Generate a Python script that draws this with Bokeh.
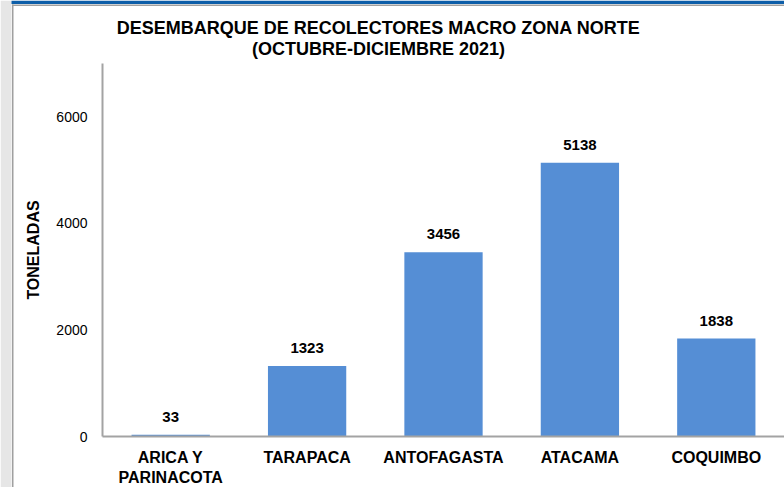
from bokeh.plotting import figure
from bokeh.models import ColumnDataSource, Label, FixedTicker, Range1d, BoxAnnotation
from bokeh.core.properties import value
from bokeh.embed import file_html
from bokeh.resources import INLINE

categories = ["ARICA Y\nPARINACOTA", "TARAPACA", "ANTOFAGASTA", "ATACAMA", "COQUIMBO"]
toneladas = [33, 1323, 3456, 5138, 1838]
y_ticks = [0, 2000, 4000, 6000]
y_max = 7000
title_lines = ["DESEMBARQUE DE RECOLECTORES MACRO ZONA NORTE", "(OCTUBRE-DICIEMBRE 2021)"]
y_label = "TONELADAS"

FONT = "Liberation Sans"
BAR = "#558ed5"
AXIS = "#a3a3a3"

# layout in canvas pixels
W, H = 784, 487
PLOT_L, PLOT_T, PLOT_B = 102, 63, 436
STEP = (W - PLOT_L) / len(categories)          # pixels per category
PPU = (PLOT_B - PLOT_T) / y_max                # pixels per tonne


def px_x(px):
    return -0.5 + (px - PLOT_L) / STEP


def px_y(py):
    return (PLOT_B - py) / PPU


xs = list(range(len(categories)))
src = ColumnDataSource(dict(x=xs, y=toneladas, lbl=[str(v) for v in toneladas]))

p = figure(width=W, height=H, output_backend="svg", toolbar_location=None,
           x_range=Range1d(px_x(0), px_x(W)), y_range=Range1d(px_y(H), px_y(0)),
           min_border_left=0, min_border_right=0, min_border_top=0, min_border_bottom=0)
p.background_fill_color = "white"
p.border_fill_color = "white"
p.outline_line_color = None
p.grid.visible = False

# window-like frame decorations
p.add_layout(BoxAnnotation(left=px_x(0), right=px_x(11), bottom=px_y(H), top=px_y(0),
                           fill_color="#e6e6e6", fill_alpha=1, line_color=None))
p.add_layout(BoxAnnotation(left=px_x(11), right=px_x(W), bottom=px_y(3.5), top=px_y(0),
                           fill_color="#0d5ea8", fill_alpha=1, line_color=None))
p.add_layout(BoxAnnotation(left=px_x(11.5), right=px_x(W), bottom=px_y(5.5), top=px_y(4),
                           fill_color="#a0a0a0", fill_alpha=1, line_color=None))
p.add_layout(BoxAnnotation(left=px_x(11.5), right=px_x(13), bottom=px_y(H), top=px_y(4),
                           fill_color="#a0a0a0", fill_alpha=1, line_color=None))

p.vbar(x="x", top="y", width=0.574, source=src, fill_color=BAR, line_color=None)
p.text(x="x", y="y", text="lbl", source=src, text_align="center", text_baseline="bottom",
       y_offset=-13, text_font=value(FONT), text_font_style="bold", text_font_size="15px",
       text_color="#000000")

# y axis
p.yaxis.fixed_location = -0.5
p.yaxis.bounds = (0, y_max)
p.yaxis.ticker = FixedTicker(ticks=y_ticks)
p.yaxis.major_tick_line_color = None
p.yaxis.minor_tick_line_color = None
p.yaxis.major_tick_out = 0
p.yaxis.major_tick_in = 0
p.yaxis.major_label_standoff = 15
p.yaxis.major_label_text_font = FONT
p.yaxis.major_label_text_font_size = "14px"
p.yaxis.major_label_text_color = "#000000"
p.yaxis.axis_line_color = AXIS
p.yaxis.axis_line_width = 2
p.yaxis.axis_label = y_label
p.yaxis.axis_label_text_font = FONT
p.yaxis.axis_label_text_font_style = "bold"
p.yaxis.axis_label_text_font_size = "16px"
p.yaxis.axis_label_text_color = "#000000"
p.yaxis.axis_label_standoff = 11

# x axis
p.xaxis.fixed_location = 0
p.xaxis.bounds = (-0.5, px_x(W))
p.xaxis.ticker = FixedTicker(ticks=xs)
p.xaxis.major_label_overrides = {i: c for i, c in zip(xs, categories)}
p.xaxis.major_tick_line_color = None
p.xaxis.minor_tick_line_color = None
p.xaxis.major_tick_out = 0
p.xaxis.major_tick_in = 0
p.xaxis.major_label_standoff = 12
p.xaxis.major_label_text_font = FONT
p.xaxis.major_label_text_font_style = "bold"
p.xaxis.major_label_text_font_size = "16px"
p.xaxis.major_label_text_color = "#000000"
p.xaxis.axis_line_color = AXIS
p.xaxis.axis_line_width = 2

for t, py in zip(title_lines, [27, 48]):
    p.add_layout(Label(x=px_x(378), y=px_y(py), text=t,
                       text_align="center", text_baseline="middle",
                       text_font=FONT, text_font_style="bold", text_font_size="18px",
                       text_color="#000000"))

open("out.html", "w").write(file_html(p, INLINE))
